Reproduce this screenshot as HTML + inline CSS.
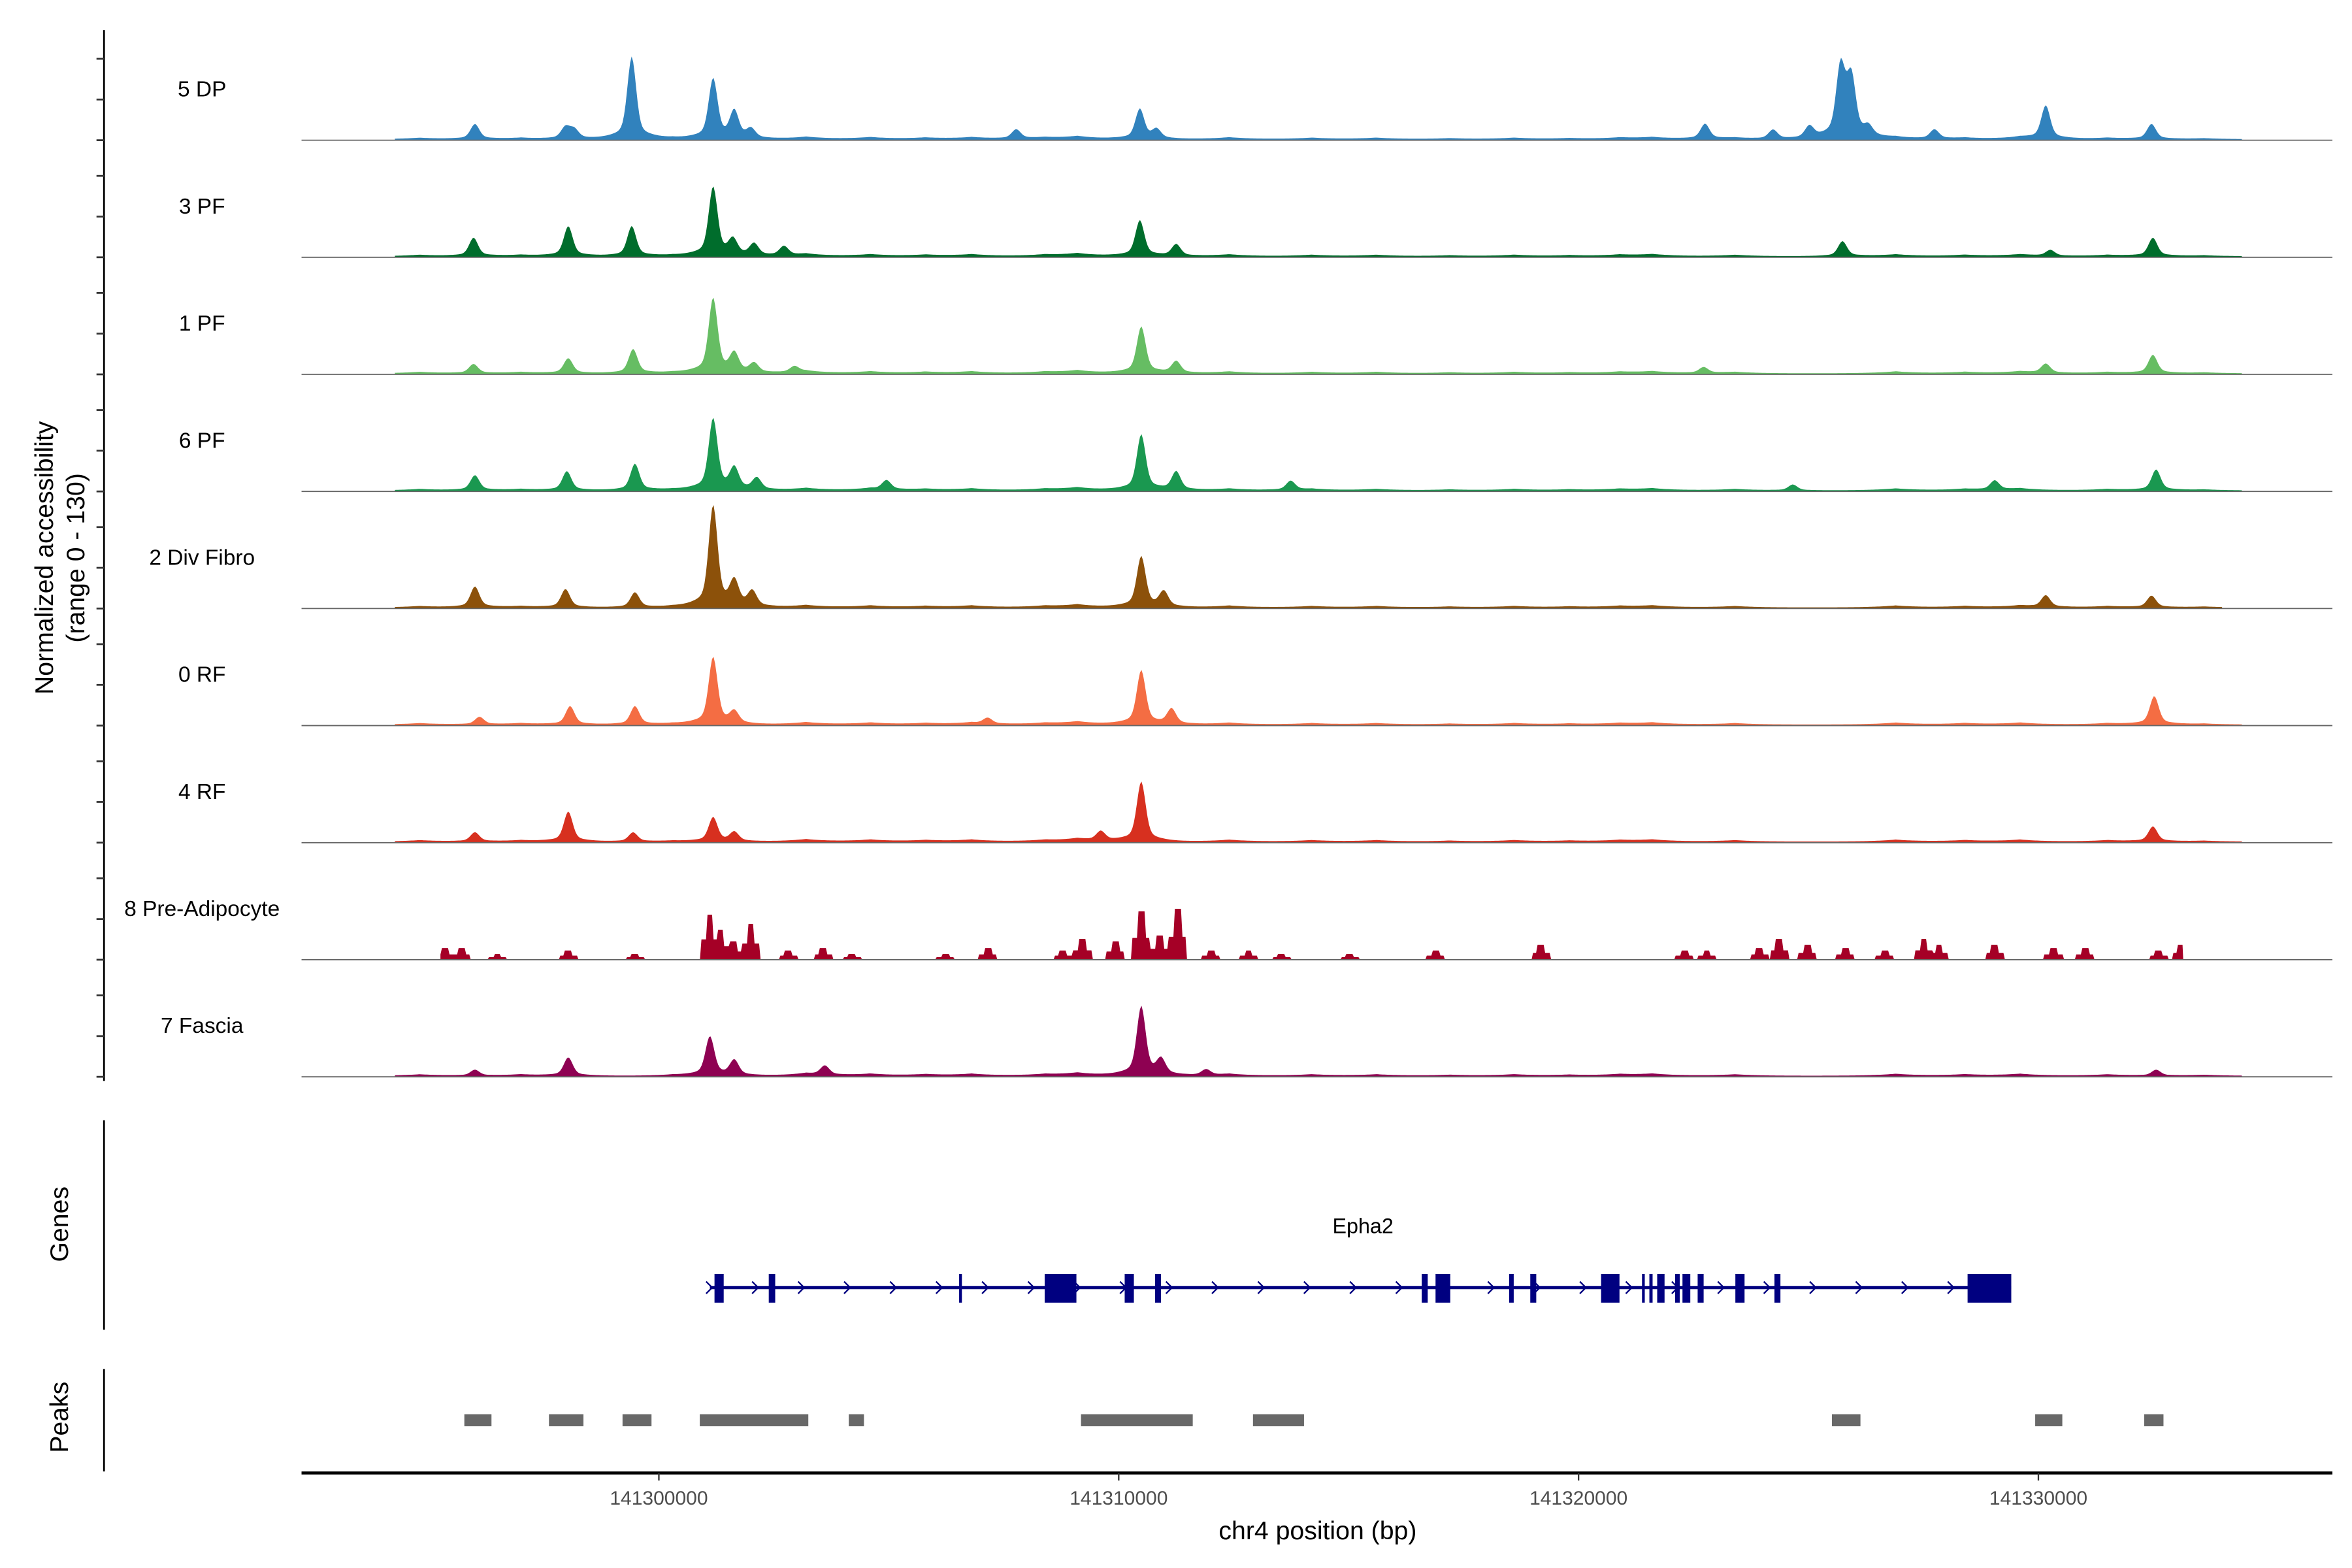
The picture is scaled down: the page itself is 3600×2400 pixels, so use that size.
<!DOCTYPE html>
<html><head><meta charset="utf-8"><style>
html,body{margin:0;padding:0;background:#fff}
svg{display:block;font-family:"Liberation Sans",sans-serif}
</style></head><body>
<svg id="chart" width="3600" height="2400" viewBox="0 0 1560 1040" xmlns="http://www.w3.org/2000/svg">
<rect width="1560" height="1040" fill="#fff"/>
<g id="tracks"></g>
<g id="yaxis"></g>
<text transform="translate(35,370) rotate(-90)" text-anchor="middle" font-size="17">Normalized accessibility</text>
<text transform="translate(56,370) rotate(-90)" text-anchor="middle" font-size="17">(range 0 - 130)</text>
<line x1="69" y1="743" x2="69" y2="882" stroke="#000" stroke-width="1.2"/>
<text transform="translate(45,812) rotate(-90)" text-anchor="middle" font-size="17">Genes</text>
<g id="genes"></g>
<line x1="69" y1="908" x2="69" y2="976" stroke="#000" stroke-width="1.2"/>
<text transform="translate(45,940) rotate(-90)" text-anchor="middle" font-size="17">Peaks</text>
<g id="peaks"></g>
<g id="xaxis"></g>
<text x="874" y="1021" text-anchor="middle" font-size="17">chr4 position (bp)</text>
</svg>
<script>
// positions in kb relative to chr4:141,300,000
const trackNames = ["5 DP","3 PF","1 PF","6 PF","2 Div Fibro","0 RF","4 RF","8 Pre-Adipocyte","7 Fascia"];
const trackColors = ["#3182bd","#006d2c","#66bd63","#1a9850","#8c510a","#f46d43","#d7301f","#a50026","#8e0152"];
const peakPos = [
 [-4.0,-2.03,-1.84,-0.59,1.18,1.64,2.0,7.77,10.46,10.82,22.75,24.23,25.02,25.7,25.93,26.3,27.74,30.16,32.46],
 [-4.03,-1.97,-0.59,1.18,1.61,2.07,2.72,10.46,11.25,25.74,30.26,32.49],
 [-4.03,-1.97,-0.56,1.18,1.64,2.07,2.95,10.49,11.25,22.72,30.16,32.49],
 [-4.0,-2.0,-0.52,1.18,1.64,2.13,4.95,10.49,11.25,13.74,24.66,29.05,32.56],
 [-4.0,-2.03,-0.52,1.18,1.64,2.03,10.49,10.98,30.16,32.46],
 [-3.9,-1.93,-0.52,1.18,1.64,7.15,10.49,11.15,32.52],
 [-4.0,-1.97,-0.56,1.18,1.64,9.61,10.49,32.49],
 [-4.66,-4.3,-3.51,-1.97,-0.52,1.11,1.34,1.61,2.0,2.82,3.57,4.2,6.23,7.15,8.79,9.21,9.93,10.49,10.89,11.28,12.0,12.82,13.54,15.02,16.89,19.18,22.3,22.79,23.93,24.36,24.98,25.8,26.66,27.51,27.84,29.05,30.33,31.02,32.62,33.11],
 [-4.0,-1.97,1.11,1.64,3.61,10.49,10.92,11.9,32.56]
];
const peakVal = [
 [18,14,11,99,72,32,11,11,36,11,18,11,14,86,72,11,11,40,18],
 [22,36,36,83,18,14,11,43,14,18,7,22],
 [11,18,29,90,22,11,7,56,14,7,11,22],
 [18,23,32,86,25,14,11,67,22,11,7,11,25],
 [25,22,18,122,29,18,61,18,14,14],
 [9,22,22,81,14,7,65,18,34],
 [11,36,11,29,11,11,72,18],
 [14,14,7,11,7,54,36,22,43,11,14,7,7,14,11,25,22,58,29,61,11,11,7,7,11,18,11,11,14,25,18,14,11,25,18,18,14,14,11,18],
 [7,22,47,18,11,83,18,7,7]
];
const trackStartKb = [-5.74,-5.74,-5.74,-5.74,-5.74,-5.74,-5.74,-4.75,-5.74];
const trackEndKb = [34.43,34.43,34.43,34.43,34.0,34.43,34.43,33.15,34.43];
const bgPos = [-5.2,-3.0,0.3,3.2,4.6,5.8,6.8,8.4,9.1,12.4,14.2,15.6,17.2,18.6,19.8,20.9,21.6,23.4,26.9,28.4,29.6,31.5,33.6];
const bgVal = [3,3,2,5,4,3,4,3,6,4,3,3,2,3,2,3,4,3,4,3,4,3,2];
const peakStartKb = [-4.23,-2.39,-0.79,0.89,4.13,9.18,12.92,25.51,29.93,32.3];
const peakEndKb = [-3.64,-1.64,-0.16,3.25,4.46,11.61,14.03,26.13,30.52,32.72];
const geneStartKb = 1.11, geneEndKb = 29.41;
const exonStartKb = [1.21,2.39,6.53,8.39,10.13,10.79,16.59,16.89,18.49,18.95,20.49,21.38,21.54,21.71,22.1,22.26,22.59,23.41,24.26,28.46];
const exonEndKb = [1.41,2.53,6.59,9.08,10.33,10.92,16.72,17.21,18.59,19.08,20.89,21.44,21.61,21.87,22.2,22.43,22.72,23.61,24.39,29.41];
const xTicks = [0,10,20,30];
const xTickLabels = ["141300000","141310000","141320000","141330000"];
const yMax = 130;

const NS = "http://www.w3.org/2000/svg";
const X0 = 437, PXPERKB = 30.5;
function xs(kb){ return X0 + kb*PXPERKB; }
const TRACKH = 72;
function ys(v, base){ return base - v/yMax*TRACKH; }
function mk(tag, attrs, parent){ const e=document.createElementNS(NS,tag); for(const k in attrs) e.setAttribute(k,attrs[k]); parent.appendChild(e); return e; }

const tracks = document.getElementById('tracks');
const yaxis = document.getElementById('yaxis');
const axl = mk('line',{x1:69,y1:20,x2:69,y2:717,stroke:'#000','stroke-width':1.2},yaxis);


for(let i=0;i<trackNames.length;i++){
  const base = 93 + 77.65*i;
  const g = mk('g',{},tracks);
  
  
  for(let k=0;k<3;k++){
    const t = mk('line',{x1:64,x2:69,y1:base-27*k,y2:base-27*k,stroke:'#333','stroke-width':1.2},yaxis);
    
    
  }
  const lab = mk('text',{x:134,y:base-29,'text-anchor':'middle','font-size':14.5,fill:'#000'},g);
  lab.textContent = trackNames[i];
  
  
  const spiky = i===7;
  const step = 0.033;
  const pts = [];
  const s = trackStartKb[i], e = trackEndKb[i];
  for(let kb=s; kb<=e; kb+=step){
    let v = 0;
    const pp = peakPos[i], pv = peakVal[i];
    for(let j=0;j<pp.length;j++){
      const d = Math.abs(kb-pp[j]);
      if(spiky){ if(d<0.2) v = Math.max(v, pv[j]*(d<0.08?1:0.45)); }
      else { v += pv[j]*(0.75*Math.exp(-Math.pow(d/0.13,2)) + 0.25*Math.exp(-d/0.3)); }
    }
    if(!spiky){ for(let j=0;j<bgPos.length;j++){ const d=Math.abs(kb-bgPos[j]); v += bgVal[j]*Math.exp(-d/0.5)*0.6; } v += 1.2; }
    pts.push([xs(kb), ys(Math.min(v,yMax), base)]);
  }
  let dstr = 'M'+xs(s).toFixed(2)+','+base;
  for(const p of pts) dstr += 'L'+p[0].toFixed(2)+','+p[1].toFixed(2);
  dstr += 'L'+xs(e).toFixed(2)+','+base+'Z';
  const area = mk('path',{d:dstr,fill:trackColors[i]},g);
  
  
  const bl = mk('line',{x1:200,x2:1547,y1:base,y2:base,stroke:'#666','stroke-width':0.8},g);
  
  
}

// genes
const genes = document.getElementById('genes');
const gy = 854;
const gl = mk('line',{x1:xs(geneStartKb),x2:xs(geneEndKb),y1:gy,y2:gy,stroke:'#000080','stroke-width':2.2},genes);


for(let x=xs(geneStartKb); x<xs(geneEndKb); x+=30.5){
  const a = mk('path',{d:`M${x-2.5},${gy-4}L${x+1.5},${gy}L${x-2.5},${gy+4}`,fill:'none',stroke:'#000080','stroke-width':1},genes);
  
  
}
for(let j=0;j<exonStartKb.length;j++){
  const x1=xs(exonStartKb[j]), x2=xs(exonEndKb[j]);
  const r = mk('rect',{x:x1,y:845,width:Math.max(x2-x1,1.6),height:19,fill:'#000080'},genes);
  
  
}
const gn = mk('text',{x:904,y:818,'text-anchor':'middle','font-size':14},genes);
gn.textContent='Epha2';



// peaks
const peaks = document.getElementById('peaks');
for(let j=0;j<peakStartKb.length;j++){
  const r = mk('rect',{x:xs(peakStartKb[j]),y:938,width:xs(peakEndKb[j])-xs(peakStartKb[j]),height:8,fill:'#686868'},peaks);
  
  
}

// x axis
const xaxis = document.getElementById('xaxis');
const xl = mk('line',{x1:200,x2:1547,y1:977,y2:977,stroke:'#000','stroke-width':2},xaxis);


for(let j=0;j<xTicks.length;j++){
  const x=xs(xTicks[j]);
  const t = mk('line',{x1:x,x2:x,y1:977,y2:982,stroke:'#333','stroke-width':1},xaxis);
  
  
  const tl = mk('text',{x:x,y:998,'text-anchor':'middle','font-size':13,fill:'#4d4d4d'},xaxis);
  tl.textContent = xTickLabels[j];
  
  
}
</script>
</body></html>
